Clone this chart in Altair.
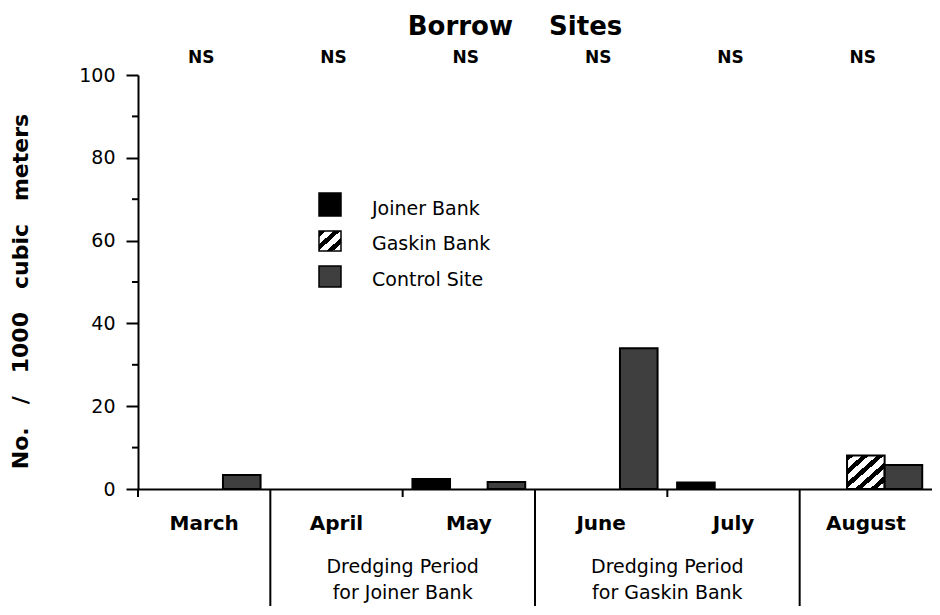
import altair as alt
import pandas as pd

# ---------------- data ----------------
MONTHS = ["March", "April", "May", "June", "July", "August"]
SERIES = ["Joiner Bank", "Gaskin Bank", "Control Site"]
JOINER = [0, 0, 2.4, 0, 1.6, 0]
GASKIN = [0, 0, 0, 0, 0, 8.1]
CONTROL = [3.4, 0, 1.7, 34.0, 0, 5.8]
SIGNIF = ["NS", "NS", "NS", "NS", "NS", "NS"]
Y_TICKS = [0, 20, 40, 60, 80, 100]
Y_MINOR = [10, 30, 50, 70, 90]
NB = "\u00a0"
TITLE = "Borrow" + NB * 4 + "Sites"
Y_TITLE = (NB * 3).join(["No.", "/", "1000", "cubic", "meters"])
PERIOD_TEXT = ["Dredging Period\nfor Joiner Bank", "Dredging Period\nfor Gaskin Bank"]
PERIOD_AT = ["May", "July"]          # text centred on the start of these months
TALL_SEP = ["April", "June", "August"]
SHORT_SEP = ["March", "May", "July"]

rows = []
for i, m in enumerate(MONTHS):
    for s, vals in zip(SERIES, [JOINER, GASKIN, CONTROL]):
        rows.append({"month": m, "series": s, "value": vals[i]})
df = pd.DataFrame(rows)

W, H = 794, 414
FONT = "DejaVu Sans"

# hatch gradient (style)
def hatch(n):
    stops = []
    for k in range(n):
        a = k / n
        b = a + 0.45 / n
        c = (k + 1) / n
        stops += [{"offset": a, "color": "black"}, {"offset": b, "color": "black"},
                  {"offset": b, "color": "white"}, {"offset": c, "color": "white"}]
    return {"gradient": "linear", "x1": 0, "y1": 0, "x2": 1, "y2": 1, "stops": stops}

FILLS = {"Joiner Bank": "black", "Gaskin Bank": hatch(5), "Control Site": "#3f3f3f"}
LEG_FILLS = {"Joiner Bank": "black", "Gaskin Bank": hatch(3), "Control Site": "#3f3f3f"}

x_scale = alt.Scale(domain=MONTHS, paddingInner=0, paddingOuter=0)
x_axis = alt.Axis(labels=False, ticks=False, title=None, domainColor="black",
                  domainWidth=2, grid=False)
y_scale = alt.Scale(domain=[0, 100], nice=False)
y_axis = alt.Axis(values=Y_TICKS, tickSize=12, tickWidth=2, tickColor="black",
                  domainColor="black", domainWidth=2, labelFontSize=19, labelFont=FONT,
                  labelColor="black", labelPadding=11, grid=False,
                  title=Y_TITLE, titleX=-118, titleY=216, titleAngle=270,
                  titleAlign="center", titleBaseline="middle", titleFontSize=22,
                  titleFont=FONT, titleFontWeight="bold", titleColor="black")

def X():
    return alt.X("month:N", scale=x_scale, axis=x_axis)

def Y():
    return alt.Y("value:Q", scale=y_scale, axis=y_axis)

base = alt.Chart(df)

bars = []
for s in SERIES:
    bars.append(
        base.transform_filter((alt.datum.series == s) & (alt.datum.value > 0))
        .mark_bar(fill=FILLS[s], stroke="black", strokeWidth=2, strokeJoin="miter")
        .encode(
            x=X(),
            xOffset=alt.XOffset("series:N", scale=alt.Scale(domain=SERIES, paddingOuter=0.26,
                                                            paddingInner=0)),
            y=Y(),
        )
    )

minor = alt.Chart(pd.DataFrame({"value": Y_MINOR})).mark_rule(
    color="black", strokeWidth=2).encode(y=Y(), x=alt.value(-6), x2=alt.value(0))

tall = alt.Chart(pd.DataFrame({"month": TALL_SEP})).mark_rule(
    color="black", strokeWidth=2).encode(
    x=alt.X("month:N", scale=x_scale, axis=x_axis, bandPosition=0),
    y=alt.value(H), y2=alt.value(H + 117))

short = alt.Chart(pd.DataFrame({"month": SHORT_SEP})).mark_rule(
    color="black", strokeWidth=2).encode(
    x=alt.X("month:N", scale=x_scale, axis=x_axis, bandPosition=0),
    y=alt.value(H), y2=alt.value(H + 8))

month_text = alt.Chart(pd.DataFrame({"month": MONTHS})).mark_text(
    font=FONT, fontSize=20, fontWeight="bold", baseline="alphabetic", align="center",
    color="black").encode(x=X(), y=alt.value(H + 41), text="month:N")

ns_text = alt.Chart(pd.DataFrame({"month": MONTHS, "sig": SIGNIF})).mark_text(
    font=FONT, fontSize=17, fontWeight="bold", baseline="alphabetic", align="center",
    color="black", dx=-3).encode(x=X(), y=alt.value(-12), text="sig:N")

period_text = alt.Chart(pd.DataFrame({"month": PERIOD_AT, "t": PERIOD_TEXT})).mark_text(
    font=FONT, fontSize=19, baseline="alphabetic", align="center", color="black",
    lineBreak="\n", lineHeight=26).encode(
    x=alt.X("month:N", scale=x_scale, axis=x_axis, bandPosition=0),
    y=alt.value(H + 84), text="t:N")

title = alt.Chart(pd.DataFrame({"t": [TITLE]})).mark_text(
    font=FONT, fontSize=26, fontWeight="bold", baseline="alphabetic", align="center",
    color="black").encode(x=alt.value(377), y=alt.value(-40), text="t:N")

legend_layers = []
LEG_Y = [(118, 141), (156, 176), (191, 212)]
for i, s in enumerate(SERIES):
    ld = pd.DataFrame({"series": [s]})
    y0, y1 = LEG_Y[i]
    legend_layers.append(
        alt.Chart(ld).mark_rect(fill=LEG_FILLS[s], stroke="black", strokeWidth=1.5).encode(
            x=alt.value(181), x2=alt.value(203), y=alt.value(y0), y2=alt.value(y1)))
    legend_layers.append(
        alt.Chart(ld).mark_text(font=FONT, fontSize=19, baseline="alphabetic", align="left",
                                color="black").encode(
            x=alt.value(234), y=alt.value(y1 - 1), text="series:N"))

chart = alt.layer(
    *bars, minor, tall, short, month_text, ns_text, period_text, title, *legend_layers
).properties(
    width=W, height=H,
    background="white",
    autosize=alt.AutoSizeParams(type="none"),
    padding={"left": 130, "top": 67, "right": 0, "bottom": 117},
).configure_view(stroke=None)

chart.save("out.html", embed_options={"renderer": "svg", "actions": False})
